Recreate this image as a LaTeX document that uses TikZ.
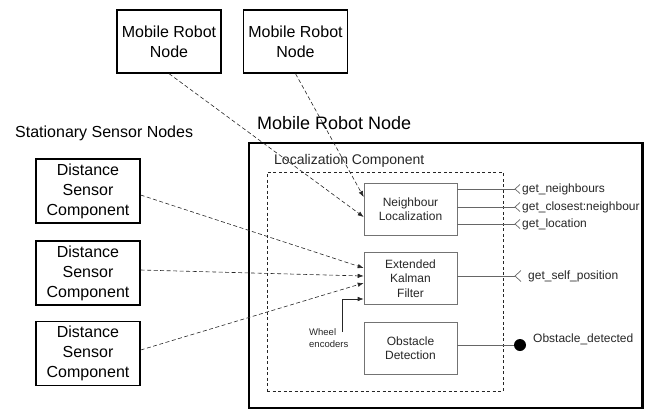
\documentclass[tikz,border=0pt]{standalone}
\usepackage{fontspec}
\setmainfont{Liberation Sans}
\usetikzlibrary{arrows.meta,calc}
\begin{document}
\begin{tikzpicture}[x=1pt,y=-1pt,
  bigbox/.style={draw=black,line width=1.3pt,minimum width=104pt,minimum height=63pt,align=center,font=\fontsize{16}{20}\selectfont,inner sep=0pt},
  comp/.style={draw=black!55,line width=0.6pt,minimum width=93pt,minimum height=52pt,align=center,font=\fontsize{12}{14.5}\selectfont,inner sep=0pt,text=black!85},
  darr/.style={dash pattern=on 4pt off 2.5pt,line width=0.6pt,draw=black!85,-{Latex[length=6pt,width=4.5pt]}},
  sarr/.style={line width=0.6pt,draw=black!85,-{Latex[length=6pt,width=4.5pt]}},
  iface/.style={draw=black!60,line width=0.7pt},
  lbl/.style={font=\fontsize{12}{14}\selectfont,anchor=west,inner sep=0pt,text=black!85}
]
\useasboundingbox (0,0) rectangle (649,410);

% outer mobile robot node
\node[draw=black,line width=2pt,minimum width=393pt,minimum height=265pt,inner sep=0pt] (mrn) at (445.5,275.5) {};
\node[font=\fontsize{18}{22}\selectfont,anchor=west,inner sep=0pt] (mrnt) at (257,123) {Mobile Robot Node};

% localization component
\node[draw=black!85,dash pattern=on 3pt off 2.5pt,line width=0.8pt,minimum width=236pt,minimum height=219pt,inner sep=0pt] (loc) at (385,281.5) {};
\node[font=\fontsize{14}{17}\selectfont,anchor=west,inner sep=0pt,text=black!85] (loct) at (274,161) {Localization Component};

\node[comp] (nl) at (410.5,209) {Neighbour\\Localization};
\node[comp] (ekf) at (410.5,278.5) {Extended\\Kalman\\Filter};
\node[comp] (od) at (410.5,348) {Obstacle\\Detection};

% top mobile robot nodes
\node[bigbox] (mr1) at (169,41.5) {Mobile Robot\\Node};
\node[bigbox] (mr2) at (295.5,41.5) {Mobile Robot\\Node};

% stationary sensor nodes
\node[font=\fontsize{16}{20}\selectfont,anchor=west,inner sep=0pt] (stat) at (15,133) {Stationary Sensor Nodes};
\node[bigbox,minimum height=64pt] (ds1) at (88,191) {Distance\\Sensor\\Component};
\node[bigbox,minimum height=64pt] (ds2) at (88,273) {Distance\\Sensor\\Component};
\node[bigbox,minimum height=64pt] (ds3) at (88,353.5) {Distance\\Sensor\\Component};

% dashed arrows
\draw[darr] (mr1.south) -- ($(nl.west)+(0,8)$);
\draw[darr] (mr2.south) -- ($(nl.west)+(0,-12)$);
\draw[darr] ($(ds1.east)+(0,4)$) -- ($(ekf.west)+(0,-10.5)$);
\draw[darr] ($(ds2.east)+(0,-3)$) -- ($(ekf.west)+(0,-2.5)$);
\draw[darr] ($(ds3.east)+(0,-3.5)$) -- ($(ekf.west)+(0,4.5)$);

% wheel encoders
\node[font=\fontsize{9.5}{12}\selectfont,align=left,anchor=west,inner sep=0pt,text=black!85] (we) at (309,338) {Wheel\\encoders};
\coordinate (wel) at (342,332);
\draw[sarr] (wel) |- ($(ekf.west)+(0,20.5)$);

% interfaces
\coordinate (s1) at (515,189);
\coordinate (s2) at (515,207);
\coordinate (s3) at (515,224);
\coordinate (s4) at (515,276);
\foreach \s in {s1,s2,s3}{
  \draw[iface] (nl.east |- \s) -- (\s);
  \draw[iface] ($(\s)+(5,-4.5)$) -- (\s) -- ($(\s)+(5,4.5)$);
}
\draw[iface] (ekf.east |- s4) -- (s4);
\draw[iface] ($(s4)+(6,-5.5)$) -- (s4) -- ($(s4)+(6,5.5)$);
\node[lbl] (l1) at (522,189) {get\_neighbours};
\node[lbl] (l2) at (522,207) {get\_closest:neighbour};
\node[lbl] (l3) at (522,224) {get\_location};
\node[lbl] (l4) at (528,276) {get\_self\_position};

\coordinate (obs) at (520,345);
\draw[iface] (od.east |- obs) -- (obs);
\fill[black] (obs) circle (6pt);
\node[lbl] (l5) at (533,339) {Obstacle\_detected};

% redraw right border over clipped text
\draw[line width=2pt] (mrn.north east) -- (mrn.south east);
\end{tikzpicture}
\end{document}
